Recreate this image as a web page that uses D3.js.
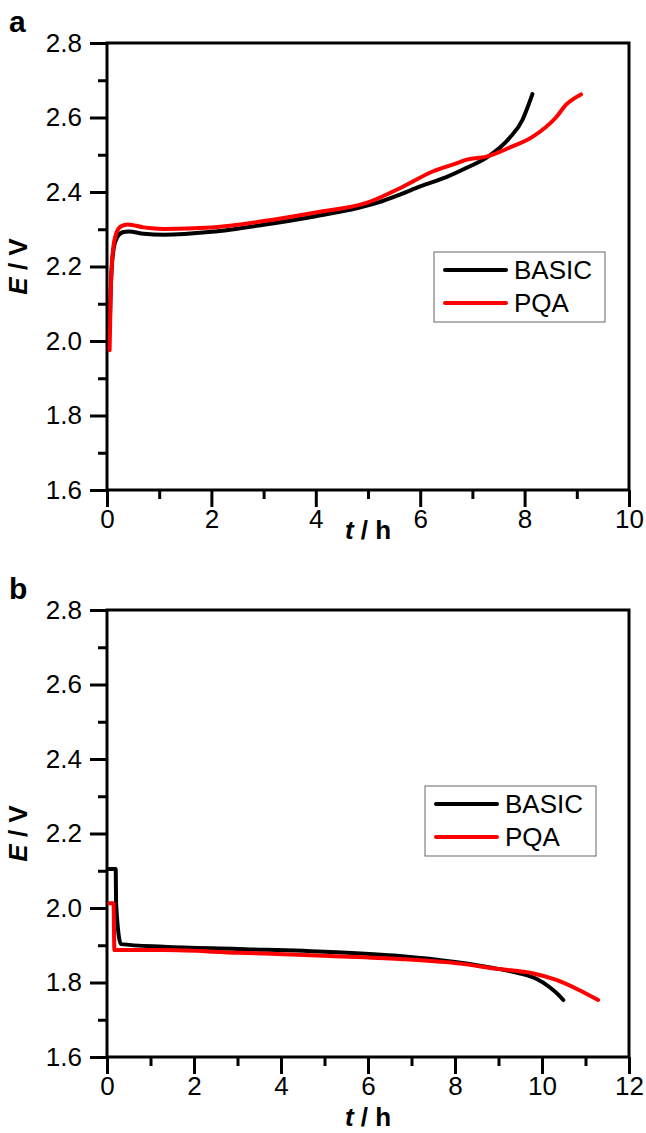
<!DOCTYPE html>
<html>
<head>
<meta charset="utf-8">
<script src="https://cdn.jsdelivr.net/npm/d3@7"></script>
<style>
  body { margin: 0; background: #fff; }
  text { font-family: "Liberation Sans", Arial, sans-serif; }
</style>
</head>
<body>
<div id="chart"></div>
<script>
const W = 646, H = 1133

// panel a (charge)
const tBasicA = [0.05, 0.08, 0.13, 0.2, 0.3, 0.42, 0.7, 1.09, 2.0, 3.0, 4.0, 4.8, 5.2, 5.61, 6.0, 6.5, 6.89, 7.3, 7.71, 7.96, 8.05, 8.15]
const eBasicA = [2.02, 2.17, 2.25, 2.28, 2.292, 2.294, 2.288, 2.285, 2.293, 2.312, 2.335, 2.357, 2.372, 2.393, 2.415, 2.44, 2.465, 2.495, 2.545, 2.594, 2.625, 2.663]
const tPqaA = [0.05, 0.07, 0.11, 0.18, 0.27, 0.4, 0.7, 1.09, 2.0, 3.0, 4.0, 5.0, 5.61, 6.24, 6.76, 6.89, 7.27, 7.71, 8.15, 8.6, 8.8, 9.08]
const ePqaA = [1.975, 2.12, 2.238, 2.29, 2.308, 2.313, 2.305, 2.301, 2.305, 2.322, 2.345, 2.372, 2.41, 2.455, 2.48, 2.487, 2.495, 2.519, 2.548, 2.6, 2.635, 2.662]

// panel b (discharge)
const tBasicB = [0.05, 0.2, 0.21, 0.32, 1.3, 3.0, 5.13, 6.73, 8.0, 9.02, 9.5, 9.87, 10.17, 10.35, 10.49]
const eBasicB = [2.105, 2.105, 2.01, 1.903, 1.896, 1.89, 1.882, 1.871, 1.855, 1.836, 1.824, 1.81, 1.788, 1.77, 1.753]
const tPqaB = [0.05, 0.15, 0.17, 1.3, 3.0, 5.13, 6.73, 8.0, 9.02, 9.78, 10.33, 10.85, 11.29]
const ePqaB = [2.013, 2.013, 1.887, 1.887, 1.88, 1.871, 1.863, 1.852, 1.836, 1.825, 1.807, 1.78, 1.753]

const seriesNames = ['BASIC', 'PQA']
const seriesColors = ['#000000', '#ff0000']
const yTicks = [1.6, 1.8, 2.0, 2.2, 2.4, 2.6, 2.8]
const yMinor = [1.7, 1.9, 2.1, 2.3, 2.5, 2.7]
const xTicksA = [0, 2, 4, 6, 8, 10]
const xMinorA = [1, 3, 5, 7, 9]
const xTicksB = [0, 2, 4, 6, 8, 10, 12]
const xMinorB = [1, 3, 5, 7, 9, 11]

const panels = [
  { letter: 'a', top: 43, bottom: 490, xMax: 10, xTicks: xTicksA, xMinor: xMinorA,
    series: [[tBasicA, eBasicA], [tPqaA, ePqaA]], legend: [434, 252], titleY: 539 },
  { letter: 'b', top: 610, bottom: 1057, xMax: 12, xTicks: xTicksB, xMinor: xMinorB,
    series: [[tBasicB, eBasicB], [tPqaB, ePqaB]], legend: [425, 786], titleY: 1126 }
]

const left = 107, right = 629

const svg = d3.select('#chart').append('svg')
  .attr('width', W)
  .attr('height', H)

panels.forEach(p => {
  const x = d3.scaleLinear().domain([0, p.xMax]).range([left, right])
  const y = d3.scaleLinear().domain([1.6, 2.8]).range([p.bottom, p.top])
  const g = svg.append('g')

  // minor ticks first
  g.append('g').attr('transform', `translate(${left},0)`)
    .call(d3.axisLeft(y).tickValues(yMinor).tickSize(9).tickSizeOuter(0).tickFormat(''))
  g.append('g').attr('transform', `translate(0,${p.bottom})`)
    .call(d3.axisBottom(x).tickValues(p.xMinor).tickSize(9).tickSizeOuter(0).tickFormat(''))

  g.append('g').attr('class', 'yax').attr('transform', `translate(${left},0)`)
    .call(d3.axisLeft(y).tickValues(yTicks).tickSize(17).tickSizeOuter(0).tickPadding(8).tickFormat(d3.format('.1f')))
  g.append('g').attr('class', 'xax').attr('transform', `translate(0,${p.bottom})`)
    .call(d3.axisBottom(x).tickValues(p.xTicks).tickSize(17).tickSizeOuter(0).tickPadding(3).tickFormat(d3.format('d')))

  g.selectAll('.domain').remove()
  g.selectAll('.tick line').attr('stroke', '#000').attr('stroke-width', 3)
  g.selectAll('.tick text').attr('fill', '#000').style('font-size', '26px')

  // frame
  g.append('rect')
    .attr('x', left).attr('y', p.top)
    .attr('width', right - left).attr('height', p.bottom - p.top)
    .attr('fill', 'none').attr('stroke', '#000').attr('stroke-width', 3)

  const line = d3.line()
    .x(d => x(d[0]))
    .y(d => y(d[1]))
    .curve(d3.curveMonotoneX)

  p.series.forEach((s, i) => {
    const pts = s[0].map((t, k) => [t, s[1][k]])
    g.append('path')
      .datum(pts)
      .attr('d', line)
      .attr('fill', 'none')
      .attr('stroke', seriesColors[i])
      .attr('stroke-width', 4)
      .attr('stroke-linecap', 'round')
      .attr('stroke-linejoin', 'round')
  })

  // legend
  const [lx, ly] = p.legend
  const lg = g.append('g').attr('transform', `translate(${lx},${ly})`)
  lg.append('rect')
    .attr('width', 171).attr('height', 70)
    .attr('fill', '#fff').attr('stroke', '#666').attr('stroke-width', 1)
  seriesNames.forEach((name, i) => {
    const yy = 18 + i * 33
    lg.append('line')
      .attr('x1', 11).attr('x2', 72).attr('y1', yy).attr('y2', yy)
      .attr('stroke', seriesColors[i]).attr('stroke-width', 4).attr('stroke-linecap', 'round')
    lg.append('text')
      .attr('x', 80).attr('y', yy + 9)
      .style('font-size', '26px')
      .text(name)
  })

  // panel letter
  svg.append('text')
    .attr('x', 9).attr('y', p.top - 11)
    .style('font-size', '30px').style('font-weight', 'bold')
    .text(p.letter)

  // axis titles
  const yt = svg.append('text')
    .attr('transform', `translate(27,${(p.top + p.bottom) / 2}) rotate(-90)`)
    .attr('text-anchor', 'middle')
    .style('font-size', '26px').style('font-weight', 'bold')
  yt.append('tspan').style('font-style', 'italic').text('E')
  yt.append('tspan').text(' / V')

  const xt = svg.append('text')
    .attr('x', (left + right) / 2).attr('y', p.titleY)
    .attr('text-anchor', 'middle')
    .style('font-size', '26px').style('font-weight', 'bold')
  xt.append('tspan').style('font-style', 'italic').text('t')
  xt.append('tspan').text(' / h')
})
</script>
</body>
</html>
